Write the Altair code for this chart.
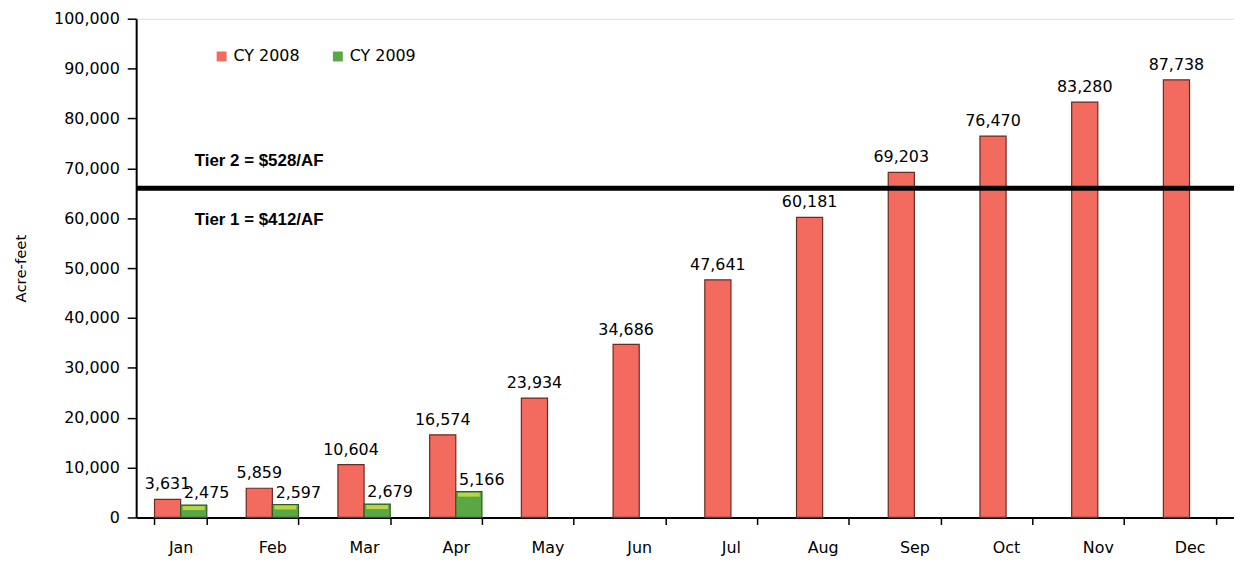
import altair as alt
import pandas as pd

months = ["Jan", "Feb", "Mar", "Apr", "May", "Jun", "Jul", "Aug", "Sep", "Oct", "Nov", "Dec"]
cy2008 = [3631, 5859, 10604, 16574, 23934, 34686, 47641, 60181, 69203, 76470, 83280, 87738]
cy2009 = [2475, 2597, 2679, 5166]
series = ["CY 2008", "CY 2009"]
tier_line = 66000
tier_labels = ["Tier 2 = $528/AF", "Tier 1 = $412/AF"]
tier_label_y = [71500, 59600]
y_ticks = list(range(0, 100001, 10000))

rows = []
for m, v in zip(months, cy2008):
    rows.append({"month": m, "series": series[0], "value": v})
for m, v in zip(months, cy2009):
    rows.append({"month": m, "series": series[1], "value": v})
df = pd.DataFrame(rows)

FONT = "DejaVu Sans"

x_enc = alt.X(
    "month:N", sort=months,
    scale=alt.Scale(paddingInner=0.43, paddingOuter=0.2),
    axis=alt.Axis(title=None, labelAngle=0, tickBand="extent", domainColor="black",
                  domainWidth=2, tickColor="black", tickWidth=1.5, tickSize=7,
                  labelFont=FONT, labelFontSize=16, labelPadding=15, labelColor="black"),
)
xo_enc = alt.XOffset("series:N", scale=alt.Scale(domain=series, paddingInner=0))
y_axis = alt.Axis(title="Acre-feet", format=",d", values=y_ticks, grid=False,
                  domainColor="black", domainWidth=2, tickColor="black", tickWidth=1.5,
                  tickSize=9, labelFont=FONT, labelFontSize=16, labelPadding=8,
                  labelColor="black", titleFont=FONT, titleFontSize=15,
                  titleFontWeight="normal", titleColor="black", titleAngle=270,
                  titleX=-116, titleY=251, titleAlign="center", titleBaseline="middle")
y_scale = alt.Scale(domain=[0, 100000], nice=False)
y_enc = alt.Y("value:Q", scale=y_scale, axis=y_axis)

base = alt.Chart(df).encode(x=x_enc, xOffset=xo_enc, y=y_enc)

bars = base.mark_bar(strokeWidth=1.2).encode(
    color=alt.Color("series:N", scale=alt.Scale(domain=series, range=["#f26b5e", "#5aa843"]),
                    legend=alt.Legend(title=None, orient="none", legendX=78, legendY=30,
                                      direction="horizontal", symbolType="square",
                                      symbolSize=100, symbolStrokeWidth=0,
                                      labelFont=FONT, labelFontSize=16, labelColor="black",
                                      columnPadding=30)),
    stroke=alt.Stroke("series:N", scale=alt.Scale(domain=series, range=["#6b2a22", "#2f5a22"]),
                      legend=None),
)

caps = base.mark_tick(color="#e6e84a", thickness=4, size=22, yOffset=3).transform_filter(
    alt.datum.series == series[1])

lab08 = base.mark_text(baseline="bottom", dy=-7, font=FONT, fontSize=16, color="black").encode(
    text=alt.Text("value:Q", format=",")).transform_filter(alt.datum.series == series[0])
lab09 = base.mark_text(baseline="bottom", dy=-4, dx=13, font=FONT, fontSize=16, color="black").encode(
    text=alt.Text("value:Q", format=",")).transform_filter(alt.datum.series == series[1])

rule = alt.Chart(pd.DataFrame({"value": [tier_line]})).mark_rule(color="black", strokeWidth=5).encode(
    y=y_enc)

tiers = alt.Chart(pd.DataFrame({"t": tier_labels, "value": tier_label_y})).mark_text(
    align="left", baseline="middle", font="Liberation Sans", fontSize=17, fontWeight="bold",
    color="black").encode(x=alt.value(59), y=y_enc, text="t:N")

chart = alt.layer(bars, caps, lab08, lab09, rule, tiers).properties(
    width=1105, height=502,
    autosize=alt.AutoSizeParams(type="none"),
    padding={"left": 129, "top": 9, "right": 0, "bottom": 37},
).configure_view(fill="#dadada", stroke=None).configure(background="white")

chart.save("out.html", embed_options={"renderer": "svg", "actions": False})
